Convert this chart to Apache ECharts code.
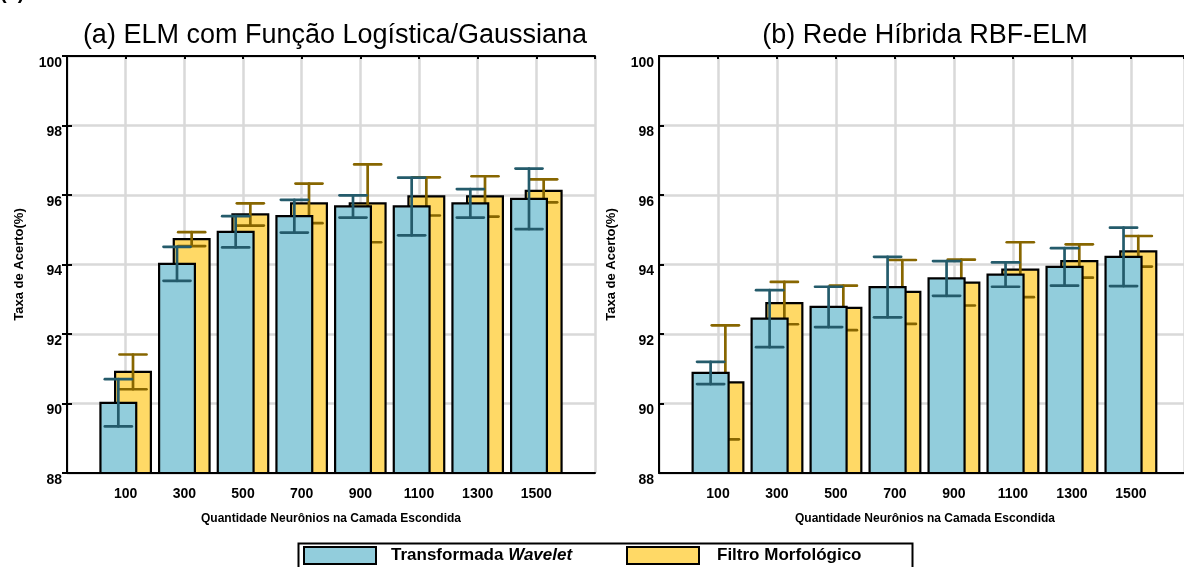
<!DOCTYPE html>
<html>
<head>
<meta charset="utf-8">
<script src="https://cdn.jsdelivr.net/npm/echarts@6/dist/echarts.min.js"></script>
<style>
  html, body { margin: 0; padding: 0; background: #ffffff; }
  #chart { width: 1184px; height: 567px; }
</style>
</head>
<body>
<div id="chart"></div>
<script>
// Hidden-layer sizes (x axis categories)
const categories = ['100', '300', '500', '700', '900', '1100', '1300', '1500'];
const yTicks = [88, 90, 92, 94, 96, 98, 100];

// (a) ELM with logistic/Gaussian function: mean accuracy and spread
const elmWaveletMean = [90.02, 94.02, 94.94, 95.39, 95.67, 95.67, 95.76, 95.89];
const elmWaveletErr  = [0.68, 0.49, 0.45, 0.47, 0.32, 0.83, 0.41, 0.87];
const elmMorphMean   = [90.91, 94.73, 95.44, 95.76, 95.76, 95.96, 95.96, 96.12];
const elmMorphErr    = [0.50, 0.20, 0.32, 0.57, 1.12, 0.55, 0.58, 0.33];

// (b) Hybrid RBF-ELM network
const rbfWaveletMean = [90.88, 92.44, 92.78, 93.35, 93.60, 93.71, 93.93, 94.22];
const rbfWaveletErr  = [0.32, 0.82, 0.58, 0.87, 0.50, 0.35, 0.54, 0.84];
const rbfMorphMean   = [90.61, 92.89, 92.75, 93.21, 93.48, 93.85, 94.10, 94.38];
const rbfMorphErr    = [1.64, 0.61, 0.64, 0.92, 0.66, 0.79, 0.48, 0.44];

const panelTitles = ['(a) ELM com Função Logística/Gaussiana', '(b) Rede Híbrida RBF-ELM'];
const seriesNames = ['Transformada Wavelet', 'Filtro Morfológico'];
const xAxisName = 'Quantidade Neurônios na Camada Escondida';
const yAxisName = 'Taxa de Acerto(%)';

const FONT = 'Liberation Sans, Arial, Helvetica, sans-serif';
const BLUE = '#92cddc', YELLOW = '#ffd966';
const BLUE_ERR = '#245b6b', YELLOW_ERR = '#876600';
const BAR_W = 0.61;      // bar width in axis units
const SHIFT = 0.125;     // half of the offset between the two overlapping bars
const CAP_W = 0.46;      // error-bar cap width in axis units
const Y_MIN = 88, Y_MAX = 100;

// the right panel is cut by the canvas edge, so its visible x range stops short of 9
const grids = [
  { left: 67, top: 56, right: 589, bottom: 94 },
  { left: 659, top: 56, right: 0, bottom: 94 }
];
const xMax = [9, 8.9];
const showRightFrame = [true, false];
const titleCenters = [335, 925];
const xNamePadding = [[0, 0, 0, 0], [0, 0, 0, 7]];

function toData(mean, err) {
  return mean.map((v, i) => [i + 1, v, err[i]]);
}

// Bar with its error bar, drawn through the axis scales
function makeRender(offset, fill, errColor) {
  return function (params, api) {
    const x = api.value(0) + offset;
    const v = api.value(1), e = api.value(2);
    const top = api.coord([x, v]);
    const base = api.coord([x, Y_MIN]);
    const hi = api.coord([x, v + e]);
    const lo = api.coord([x, v - e]);
    const halfW = api.size([BAR_W, 0])[0] / 2;
    const capHalf = api.size([CAP_W, 0])[0] / 2;
    const errStyle = { stroke: errColor, lineWidth: 2.7, lineCap: 'round' };
    return {
      type: 'group',
      children: [
        { type: 'rect', shape: { x: top[0] - halfW, y: top[1], width: halfW * 2, height: base[1] - top[1] },
          style: { fill: fill, stroke: '#000', lineWidth: 2.2 } },
        { type: 'line', shape: { x1: hi[0], y1: hi[1], x2: lo[0], y2: lo[1] }, style: errStyle },
        { type: 'line', shape: { x1: hi[0] - capHalf, y1: hi[1], x2: hi[0] + capHalf, y2: hi[1] }, style: errStyle },
        { type: 'line', shape: { x1: lo[0] - capHalf, y1: lo[1], x2: lo[0] + capHalf, y2: lo[1] }, style: errStyle }
      ]
    };
  };
}

const xAxes = [], yAxes = [], series = [], titles = [];
const panels = [
  { wMean: elmWaveletMean, wErr: elmWaveletErr, mMean: elmMorphMean, mErr: elmMorphErr },
  { wMean: rbfWaveletMean, wErr: rbfWaveletErr, mMean: rbfMorphMean, mErr: rbfMorphErr }
];

panels.forEach((p, g) => {
  const axisLine = { show: true, lineStyle: { color: '#000', width: 2 } };
  const tick = { show: true, inside: true, length: 5, lineStyle: { color: '#000', width: 2 } };
  // bottom category scale
  xAxes.push({
    type: 'value', gridIndex: g, position: 'bottom', min: 0, max: xMax[g], interval: 1,
    axisLine, axisTick: tick,
    axisLabel: {
      margin: 14, verticalAlign: 'top', showMaxLabel: false,
      fontFamily: FONT, fontWeight: 'bold', fontSize: 14, color: '#000',
      formatter: v => (v >= 1 && v <= categories.length && Number.isInteger(v)) ? categories[v - 1] : ''
    },
    splitLine: { show: true, lineStyle: { color: '#d9d9d9', width: 2.5 } },
    name: xAxisName, nameLocation: 'middle', nameGap: 40,
    nameTextStyle: {
      fontFamily: FONT, fontWeight: 'bold', fontSize: 12, color: '#000',
      verticalAlign: 'top', padding: xNamePadding[g]
    }
  });
  // top frame
  xAxes.push({
    type: 'value', gridIndex: g, position: 'top', min: 0, max: xMax[g], interval: 1,
    axisLine, axisTick: { show: true, inside: true, length: 3, lineStyle: { color: '#000', width: 2 } },
    axisLabel: { show: false }, splitLine: { show: false }
  });
  yAxes.push({
    type: 'value', gridIndex: g, position: 'left', min: Y_MIN, max: Y_MAX, interval: 2,
    axisLine, axisTick: tick,
    axisLabel: {
      margin: 5, verticalAlign: 'top',
      fontFamily: FONT, fontWeight: 'bold', fontSize: 14, color: '#000',
      formatter: v => yTicks.includes(v) ? String(v) : ''
    },
    splitLine: { show: true, lineStyle: { color: '#d9d9d9', width: 2.5 } },
    name: yAxisName, nameLocation: 'middle', nameGap: 41, nameRotate: 90,
    nameTextStyle: { fontFamily: FONT, fontWeight: 'bold', fontSize: 13, color: '#000' }
  });
  yAxes.push({
    type: 'value', gridIndex: g, position: 'right', min: Y_MIN, max: Y_MAX, interval: 2,
    show: showRightFrame[g],
    axisLine, axisTick: tick, axisLabel: { show: false }, splitLine: { show: false }
  });

  const xi = g * 2, yi = g * 2;
  series.push({
    type: 'custom', name: seriesNames[1], xAxisIndex: xi, yAxisIndex: yi, z: 2,
    itemStyle: { color: YELLOW }, encode: { x: 0, y: 1 },
    data: toData(p.mMean, p.mErr), renderItem: makeRender(SHIFT, YELLOW, YELLOW_ERR)
  });
  series.push({
    type: 'custom', name: seriesNames[0], xAxisIndex: xi, yAxisIndex: yi, z: 3,
    itemStyle: { color: BLUE }, encode: { x: 0, y: 1 },
    data: toData(p.wMean, p.wErr), renderItem: makeRender(-SHIFT, BLUE, BLUE_ERR)
  });

  titles.push({
    text: panelTitles[g], left: titleCenters[g] - 5, top: 17,
    textAlign: 'center',
    textStyle: { fontFamily: FONT, fontWeight: 'normal', fontSize: 27, color: '#000' }
  });
});

const legendText = { fontFamily: FONT, fontWeight: 'bold', fontSize: 17, color: '#000' };
const legendBase = {
  orient: 'horizontal', top: 546, itemWidth: 72, itemHeight: 17, padding: 0, selectedMode: false
};

const option = {
  animation: false,
  backgroundColor: '#ffffff',
  title: titles,
  grid: grids,
  xAxis: xAxes,
  yAxis: yAxes,
  legend: [
    Object.assign({}, legendBase, {
      left: 303,
      data: [{ name: seriesNames[0], icon: 'rect', itemStyle: { color: BLUE, borderColor: '#000', borderWidth: 2 } }],
      formatter: () => '{a|Transformada }{b|Wavelet}',
      textStyle: {
        rich: {
          a: Object.assign({}, legendText, { padding: [0, 0, 0, 10] }),
          b: Object.assign({}, legendText, { fontStyle: 'italic' })
        }
      }
    }),
    Object.assign({}, legendBase, {
      left: 626,
      data: [{ name: seriesNames[1], icon: 'rect', itemStyle: { color: YELLOW, borderColor: '#000', borderWidth: 2 } }],
      formatter: () => '{a|Filtro Morfológico}',
      textStyle: { rich: { a: Object.assign({}, legendText, { padding: [0, 0, 0, 13] }) } }
    })
  ],
  graphic: [
    // frame around the legend
    { type: 'rect', left: 296, top: 541, z: 10,
      shape: { x: 0, y: 0, width: 614, height: 40 },
      style: { fill: 'none', stroke: '#000', lineWidth: 2 } },
    // figure label at the top-left corner
    { type: 'text', left: 0, top: -17, z: 10,
      style: { text: '(a)', font: 'bold 20px ' + FONT, fill: '#000' } }
  ],
  series: series
};

const chart = echarts.init(document.getElementById('chart'), null, { renderer: 'canvas' });
chart.setOption(option);
</script>
</body>
</html>
